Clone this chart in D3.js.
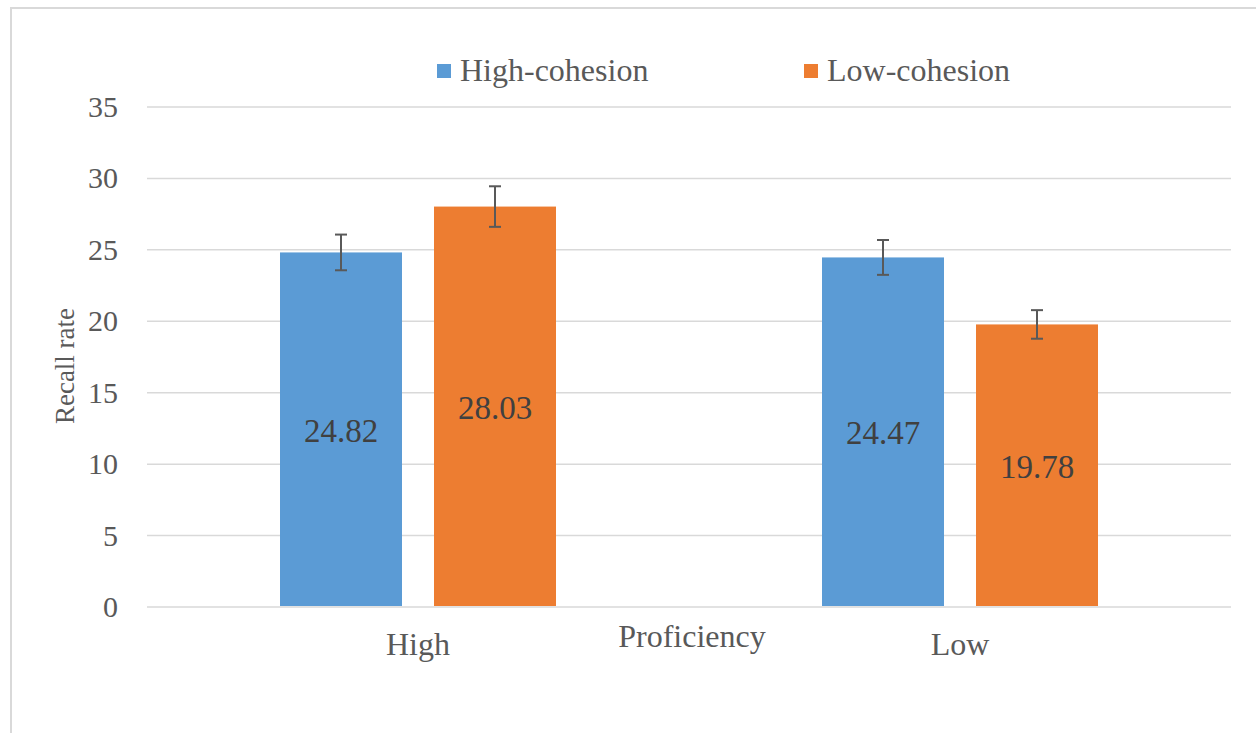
<!DOCTYPE html>
<html><head><meta charset="utf-8">
<script src="https://cdn.jsdelivr.net/npm/d3@7"></script>
<style>html,body{margin:0;padding:0;background:#fff;}svg{display:block;}</style>
</head><body>
<svg id="chart" width="1256" height="733"></svg>
<script>
const categories = ["High", "Low"];
const seriesNames = ["High-cohesion", "Low-cohesion"];
const highCohesion = [24.82, 24.47];
const lowCohesion = [28.03, 19.78];
const highCohesionErr = [1.25, 1.22];
const lowCohesionErr = [1.42, 1.0];
const yTicks = [0, 5, 10, 15, 20, 25, 30, 35];
const colors = ["#5b9bd5", "#ed7d31"];

const svg = d3.select("#chart");
const font = "'Liberation Serif','Times New Roman',serif";
const margin = {left:147, right:1231, top:107, bottom:607};

// outer border
svg.append("rect").attr("x",11).attr("y",8).attr("width",1260).attr("height",740)
  .attr("fill","#fff").attr("stroke","#d9d9d9").attr("stroke-width",2);

const y = d3.scaleLinear().domain([0,35]).range([margin.bottom, margin.top]);
const x0 = d3.scaleBand().domain(categories).range([margin.left, margin.right]);
const x1 = d3.scaleBand().domain(seriesNames).range([0, 276]).paddingInner(32/154).paddingOuter(0);

// gridlines
svg.append("g").selectAll("line").data(yTicks).join("line")
  .attr("x1",margin.left).attr("x2",margin.right)
  .attr("y1",d=>y(d)).attr("y2",d=>y(d))
  .attr("stroke","#d9d9d9").attr("stroke-width",1.5);

// y tick labels
svg.append("g").selectAll("text").data(yTicks).join("text")
  .attr("x",118).attr("y",d=>y(d)+10)
  .attr("text-anchor","end").attr("font-family",font).attr("font-size",30)
  .attr("fill","#595959").text(d=>d);

// y axis title
svg.append("text").attr("transform","translate(74,366) rotate(-90)")
  .attr("text-anchor","middle").attr("font-family",font).attr("font-size",27)
  .attr("fill","#595959").text("Recall rate");

const data = categories.map((c,i)=>({cat:c, vals:[
  {s:seriesNames[0], v:highCohesion[i], e:highCohesionErr[i], c:colors[0]},
  {s:seriesNames[1], v:lowCohesion[i], e:lowCohesionErr[i], c:colors[1]}]}));

const g = svg.append("g").selectAll("g").data(data).join("g")
  .attr("transform", d=>`translate(${x0(d.cat)+x0.bandwidth()/2-138},0)`);

const bars = g.selectAll("g.b").data(d=>d.vals).join("g").attr("class","b");
bars.append("rect")
  .attr("x", d=>x1(d.s)).attr("width",x1.bandwidth())
  .attr("y", d=>y(d.v)).attr("height", d=>y(0)-y(d.v)-1)
  .attr("fill", d=>d.c);
// labels
bars.append("text")
  .attr("x", d=>x1(d.s)+x1.bandwidth()/2)
  .attr("y", d=>(y(d.v)+y(0))/2+12)
  .attr("text-anchor","middle").attr("font-family",font).attr("font-size",33)
  .attr("fill","#404040").text(d=>d.v.toFixed(2));
// error bars
const eb = bars.append("g").attr("stroke","#595959").attr("stroke-width",2);
eb.append("line").attr("x1",d=>x1(d.s)+x1.bandwidth()/2).attr("x2",d=>x1(d.s)+x1.bandwidth()/2)
  .attr("y1",d=>y(d.v+d.e)).attr("y2",d=>y(d.v-d.e));
eb.append("line").attr("x1",d=>x1(d.s)+x1.bandwidth()/2-6).attr("x2",d=>x1(d.s)+x1.bandwidth()/2+6)
  .attr("y1",d=>y(d.v+d.e)).attr("y2",d=>y(d.v+d.e));
eb.append("line").attr("x1",d=>x1(d.s)+x1.bandwidth()/2-6).attr("x2",d=>x1(d.s)+x1.bandwidth()/2+6)
  .attr("y1",d=>y(d.v-d.e)).attr("y2",d=>y(d.v-d.e));

// category labels
svg.append("g").selectAll("text").data(categories).join("text")
  .attr("x", d=>x0(d)+x0.bandwidth()/2).attr("y",655)
  .attr("text-anchor","middle").attr("font-family",font).attr("font-size",32)
  .attr("fill","#595959").text(d=>d);

// x axis title
svg.append("text").attr("x",692).attr("y",647).attr("text-anchor","middle")
  .attr("font-family",font).attr("font-size",32).attr("fill","#595959").text("Proficiency");

// legend
const legX = [437, 804];
const leg = svg.append("g").selectAll("g").data(seriesNames).join("g")
  .attr("transform",(d,i)=>`translate(${legX[i]},64)`);
leg.append("rect").attr("width",14).attr("height",14).attr("fill",(d,i)=>colors[i]);
leg.append("text").attr("x",23).attr("y",17).attr("font-family",font).attr("font-size",32)
  .attr("fill","#595959").text(d=>d);
</script>
</body></html>
